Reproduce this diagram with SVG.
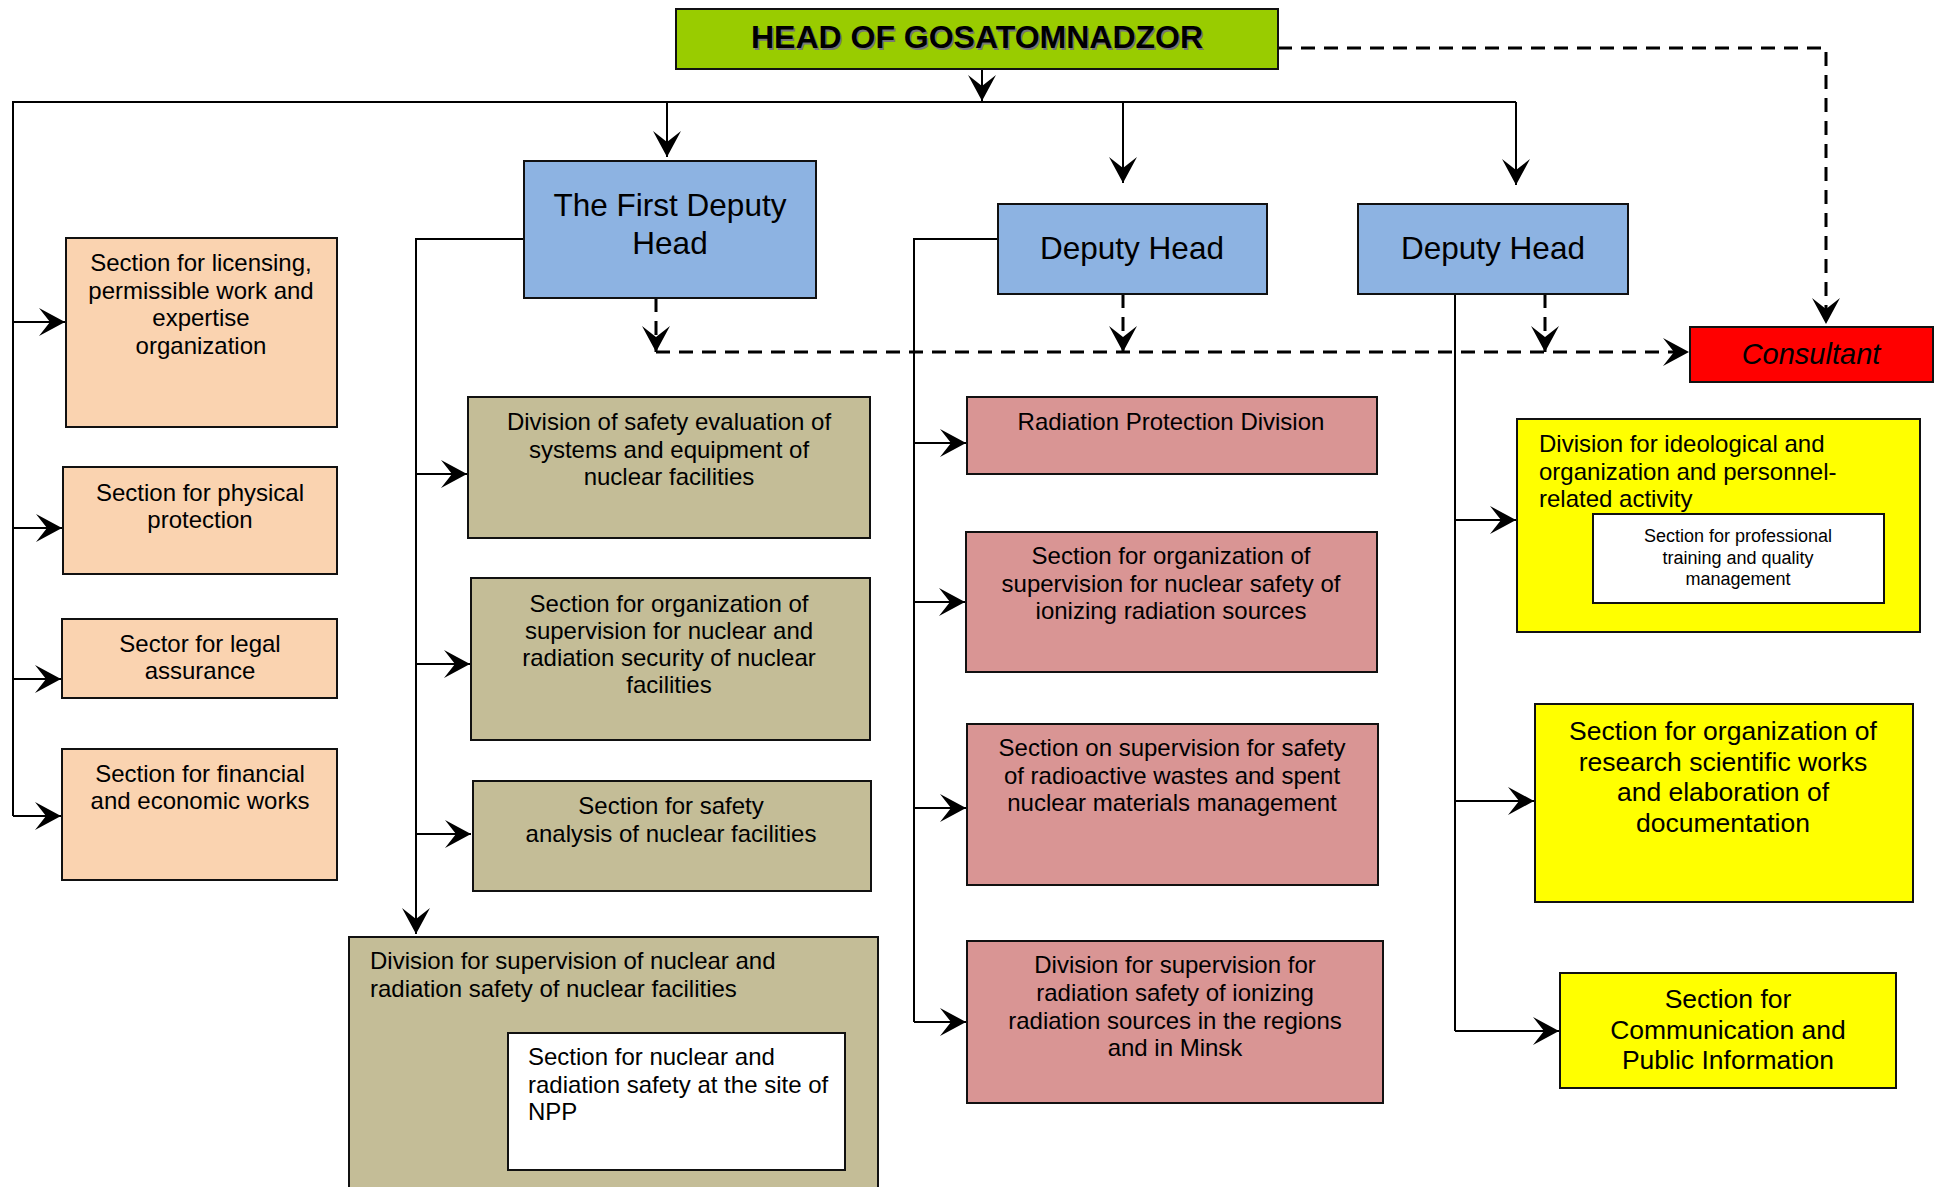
<svg xmlns="http://www.w3.org/2000/svg" width="1935" height="1187" viewBox="0 0 1935 1187">
<style>
text{font-family:"Liberation Sans",Arial,sans-serif;fill:#000}
.box{stroke:#111;stroke-width:2}
.head{fill:#99CC00}
.dep{fill:#8DB3E2}
.peach{fill:#FAD3B0}
.olive{fill:#C4BD97}
.pink{fill:#D99594}
.yel{fill:#FFFF00}
.wht{fill:#FFFFFF}
.red{fill:#FF0000}
.t24{font-size:24px;text-anchor:middle}
.t24l{font-size:24px}
.t18{font-size:18px;text-anchor:middle}
.t26{font-size:26.5px;text-anchor:middle}
.t31{font-size:31.5px;text-anchor:middle}
.solid{fill:none;stroke:#000;stroke-width:2}
.dash{fill:none;stroke:#000;stroke-width:3;stroke-dasharray:14 9}
</style>
<defs>
<marker id="arr" markerUnits="userSpaceOnUse" viewBox="-27 -15 28 30" refX="0" refY="0" markerWidth="28" markerHeight="30" orient="auto">
<path d="M0,0 L-26,-14 L-15,0 L-26,14 Z" fill="#000"/>
</marker>
</defs>
<rect width="1935" height="1187" fill="#fff"/>

<g id="connectors">
<line class="solid" x1="982" y1="69" x2="982" y2="101" marker-end="url(#arr)"/>
<polyline class="solid" points="13,816 13,102 1516,102"/>
<line class="solid" x1="667" y1="102" x2="667" y2="157" marker-end="url(#arr)"/>
<line class="solid" x1="1123" y1="102" x2="1123" y2="183" marker-end="url(#arr)"/>
<line class="solid" x1="1516" y1="102" x2="1516" y2="185" marker-end="url(#arr)"/>
<line class="solid" x1="13" y1="322" x2="65" y2="322" marker-end="url(#arr)"/>
<line class="solid" x1="13" y1="528" x2="62" y2="528" marker-end="url(#arr)"/>
<line class="solid" x1="13" y1="679" x2="61" y2="679" marker-end="url(#arr)"/>
<line class="solid" x1="13" y1="816" x2="61" y2="816" marker-end="url(#arr)"/>
<polyline class="solid" points="524,239 416,239 416,934" marker-end="url(#arr)"/>
<line class="solid" x1="416" y1="474" x2="467" y2="474" marker-end="url(#arr)"/>
<line class="solid" x1="416" y1="664" x2="470" y2="664" marker-end="url(#arr)"/>
<line class="solid" x1="416" y1="834" x2="471" y2="834" marker-end="url(#arr)"/>
<polyline class="solid" points="998,239 914,239 914,1022"/>
<line class="solid" x1="914" y1="443" x2="966" y2="443" marker-end="url(#arr)"/>
<line class="solid" x1="914" y1="602" x2="965" y2="602" marker-end="url(#arr)"/>
<line class="solid" x1="914" y1="808" x2="966" y2="808" marker-end="url(#arr)"/>
<line class="solid" x1="914" y1="1022" x2="966" y2="1022" marker-end="url(#arr)"/>
<line class="solid" x1="1455" y1="294" x2="1455" y2="1031"/>
<line class="solid" x1="1455" y1="520" x2="1516" y2="520" marker-end="url(#arr)"/>
<line class="solid" x1="1455" y1="801" x2="1534" y2="801" marker-end="url(#arr)"/>
<line class="solid" x1="1455" y1="1031" x2="1559" y2="1031" marker-end="url(#arr)"/>
<polyline class="dash" points="1278,48 1826,48 1826,324" marker-end="url(#arr)"/>
<line class="dash" x1="656" y1="352" x2="1689" y2="352" marker-end="url(#arr)"/>
<line class="dash" x1="656" y1="298" x2="656" y2="352" marker-end="url(#arr)"/>
<line class="dash" x1="1123" y1="294" x2="1123" y2="352" marker-end="url(#arr)"/>
<line class="dash" x1="1545" y1="294" x2="1545" y2="352" marker-end="url(#arr)"/>
</g>

<g id="head">
<rect class="box head" x="676" y="9" width="602" height="60"/>
<text x="978.5" y="49.5" font-size="32" font-weight="bold" text-anchor="middle" style="fill:#777">HEAD OF GOSATOMNADZOR</text>
<text x="977" y="48" font-size="32" font-weight="bold" text-anchor="middle">HEAD OF GOSATOMNADZOR</text>
</g>

<g id="first-deputy">
<rect class="box dep" x="524" y="161" width="292" height="137"/>
<text class="t31" x="670" y="216">The First Deputy</text>
<text class="t31" x="670" y="254">Head</text>
</g>
<g id="deputy1">
<rect class="box dep" x="998" y="204" width="269" height="90"/>
<text class="t31" x="1132" y="259">Deputy Head</text>
</g>
<g id="deputy2">
<rect class="box dep" x="1358" y="204" width="270" height="90"/>
<text class="t31" x="1493" y="259">Deputy Head</text>
</g>
<g id="consultant">
<rect class="box red" x="1690" y="327" width="243" height="55"/>
<text x="1811" y="364" font-size="29" font-style="italic" text-anchor="middle">Consultant</text>
</g>

<g id="licensing">
<rect class="box peach" x="66" y="238" width="271" height="189"/>
<text class="t24" x="201" y="271">Section for licensing,</text>
<text class="t24" x="201" y="298.5">permissible work and</text>
<text class="t24" x="201" y="326">expertise</text>
<text class="t24" x="201" y="353.5">organization</text>
</g>
<g id="physical">
<rect class="box peach" x="63" y="467" width="274" height="107"/>
<text class="t24" x="200" y="501">Section for physical</text>
<text class="t24" x="200" y="528">protection</text>
</g>
<g id="legal">
<rect class="box peach" x="62" y="619" width="275" height="79"/>
<text class="t24" x="200" y="651.5">Sector for legal</text>
<text class="t24" x="200" y="679">assurance</text>
</g>
<g id="financial">
<rect class="box peach" x="62" y="749" width="275" height="131"/>
<text class="t24" x="200" y="781.5">Section for financial</text>
<text class="t24" x="200" y="809">and economic works</text>
</g>

<g id="safety-evaluation">
<rect class="box olive" x="468" y="397" width="402" height="141"/>
<text class="t24" x="669" y="430">Division of safety evaluation of</text>
<text class="t24" x="669" y="457.5">systems and equipment of</text>
<text class="t24" x="669" y="485">nuclear facilities</text>
</g>
<g id="org-supervision">
<rect class="box olive" x="471" y="578" width="399" height="162"/>
<text class="t24" x="669" y="611.5">Section for organization of</text>
<text class="t24" x="669" y="639">supervision for nuclear and</text>
<text class="t24" x="669" y="666">radiation security of nuclear</text>
<text class="t24" x="669" y="693">facilities</text>
</g>
<g id="safety-analysis">
<rect class="box olive" x="473" y="781" width="398" height="110"/>
<text class="t24" x="671" y="814">Section for safety</text>
<text class="t24" x="671" y="841.5">analysis of nuclear facilities</text>
</g>
<g id="division-supervision">
<rect class="box olive" x="349" y="937" width="529" height="260"/>
<text class="t24l" x="370" y="969">Division for supervision of nuclear and</text>
<text class="t24l" x="370" y="997">radiation safety of nuclear facilities</text>
<rect class="box wht" x="508" y="1033" width="337" height="137"/>
<text class="t24l" x="528" y="1065">Section for nuclear and</text>
<text class="t24l" x="528" y="1093">radiation safety at the site of</text>
<text class="t24l" x="528" y="1120">NPP</text>
</g>

<g id="radiation-protection">
<rect class="box pink" x="967" y="397" width="410" height="77"/>
<text class="t24" x="1171" y="430">Radiation Protection Division</text>
</g>
<g id="ionizing-sources">
<rect class="box pink" x="966" y="532" width="411" height="140"/>
<text class="t24" x="1171" y="564">Section for organization of</text>
<text class="t24" x="1171" y="592">supervision for nuclear safety of</text>
<text class="t24" x="1171" y="619">ionizing radiation sources</text>
</g>
<g id="radioactive-wastes">
<rect class="box pink" x="967" y="724" width="411" height="161"/>
<text class="t24" x="1172" y="756">Section on supervision for safety</text>
<text class="t24" x="1172" y="784">of radioactive wastes and spent</text>
<text class="t24" x="1172" y="811">nuclear materials management</text>
</g>
<g id="regions-minsk">
<rect class="box pink" x="967" y="941" width="416" height="162"/>
<text class="t24" x="1175" y="973">Division for supervision for</text>
<text class="t24" x="1175" y="1001">radiation safety of ionizing</text>
<text class="t24" x="1175" y="1029">radiation sources in the regions</text>
<text class="t24" x="1175" y="1056">and in Minsk</text>
</g>

<g id="ideological">
<rect class="box yel" x="1517" y="419" width="403" height="213"/>
<text class="t24l" x="1539" y="452">Division for ideological and</text>
<text class="t24l" x="1539" y="479.5">organization and personnel-</text>
<text class="t24l" x="1539" y="507">related activity</text>
<rect class="box wht" x="1593" y="514" width="291" height="89"/>
<text class="t18" x="1738" y="542">Section for professional</text>
<text class="t18" x="1738" y="563.5">training and quality</text>
<text class="t18" x="1738" y="585">management</text>
</g>
<g id="research">
<rect class="box yel" x="1535" y="704" width="378" height="198"/>
<text class="t26" x="1723" y="740">Section for organization of</text>
<text class="t26" x="1723" y="770.5">research scientific works</text>
<text class="t26" x="1723" y="801">and elaboration of</text>
<text class="t26" x="1723" y="831.5">documentation</text>
</g>
<g id="communication">
<rect class="box yel" x="1560" y="973" width="336" height="115"/>
<text class="t26" x="1728" y="1008">Section for</text>
<text class="t26" x="1728" y="1039">Communication and</text>
<text class="t26" x="1728" y="1069">Public Information</text>
</g>
</svg>
